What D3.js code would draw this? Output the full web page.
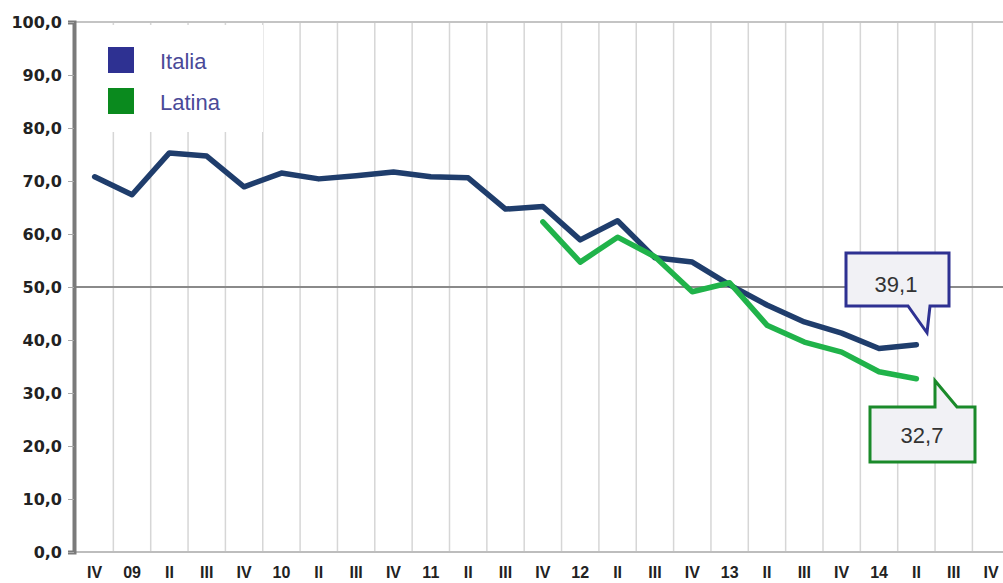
<!DOCTYPE html>
<html>
<head>
<meta charset="utf-8">
<script src="https://cdn.jsdelivr.net/npm/d3@7"></script>
<style>
  body { margin: 0; background: #fff; }
  svg { display: block; font-family: "Liberation Sans", Arial, sans-serif; }
</style>
</head>
<body>
<script>
// quarters from IV 2008 to IV 2014
var quarters = ["IV","09","II","III","IV","10","II","III","IV","11","II","III",
                "IV","12","II","III","IV","13","II","III","IV","14","II","III","IV"];
var italia = [70.8,67.4,75.3,74.7,68.9,71.5,70.4,71.0,71.7,70.8,70.6,64.7,
              65.2,58.9,62.5,55.5,54.7,50.4,46.6,43.4,41.3,38.4,39.1,null,null];
var latina = [null,null,null,null,null,null,null,null,null,null,null,null,
              62.3,54.7,59.4,55.7,49.1,50.8,42.8,39.6,37.7,34.0,32.7,null,null];
var yTicks = [0,10,20,30,40,50,60,70,80,90,100];
var seriesNames = ["Italia","Latina"];
var lastItalia = "39,1";
var lastLatina = "32,7";

var w = 1003, h = 583;
var svg = d3.select("body").append("svg").attr("width", w).attr("height", h);

var x = d3.scaleBand().domain(d3.range(quarters.length)).range([76, 76 + 25*37.35]);
var y = d3.scaleLinear().domain([0,100]).range([552, 22]);
var cx = function(i){ return x(i) + x.bandwidth()/2; };

// vertical grid lines at quarter boundaries
svg.append("g").selectAll("line")
  .data(d3.range(1, quarters.length))
  .enter().append("line")
  .attr("x1", function(d){ return x(d); })
  .attr("x2", function(d){ return x(d); })
  .attr("y1", y(100)).attr("y2", y(0))
  .attr("stroke", "#d6d6d6").attr("stroke-width", 1.5);

// top border
svg.append("line").attr("x1", 74).attr("x2", w).attr("y1", y(100)).attr("y2", y(100))
  .attr("stroke", "#c4c4c4").attr("stroke-width", 2);

// legend box hides grid
svg.append("rect").attr("x", 77).attr("y", 25).attr("width", 186).attr("height", 107).attr("fill", "#fff");

// 50 line
svg.append("line").attr("x1", 74).attr("x2", w).attr("y1", y(50)).attr("y2", y(50))
  .attr("stroke", "#8a8a8a").attr("stroke-width", 2);

// bottom baseline
svg.append("line").attr("x1", 74).attr("x2", w).attr("y1", y(0)).attr("y2", y(0))
  .attr("stroke", "#bdbdbd").attr("stroke-width", 2);

// y axis
var yAxis = svg.append("g").attr("transform", "translate(74,0)")
  .call(d3.axisLeft(y).tickValues(yTicks).tickSize(6).tickPadding(6)
    .tickFormat(function(d){ return d.toFixed(1).replace(".", ","); }));
yAxis.select(".domain").attr("stroke", "#7a7a7a").attr("stroke-width", 4);
yAxis.selectAll(".tick line").attr("stroke", "#aaa");
yAxis.selectAll("text").attr("font-size", 16).attr("font-weight", "bold").attr("fill", "#222")
  .attr("font-family", "DejaVu Sans, sans-serif");

// x axis
var xAxis = svg.append("g").attr("transform", "translate(0," + y(0) + ")")
  .call(d3.axisBottom(x).tickSize(0).tickPadding(15)
    .tickFormat(function(d){ return quarters[d]; }));
xAxis.select(".domain").remove();
xAxis.selectAll("text").attr("font-size", 16).attr("font-weight", "bold").attr("fill", "#222")
  .attr("font-family", "Liberation Sans, Arial, sans-serif");

// lines
var line = d3.line()
  .defined(function(d){ return d != null; })
  .x(function(d, i){ return cx(i); })
  .y(function(d){ return y(d); });

svg.append("path").datum(italia).attr("d", line)
  .attr("fill", "none").attr("stroke", "#1f3d6c").attr("stroke-width", 5.5)
  .attr("stroke-linejoin", "round").attr("stroke-linecap", "round");
svg.append("path").datum(latina).attr("d", line)
  .attr("fill", "none").attr("stroke", "#20b34a").attr("stroke-width", 5.5)
  .attr("stroke-linejoin", "round").attr("stroke-linecap", "round");

// legend
var legColors = ["#2e3192", "#0a8a1e"];
seriesNames.forEach(function(name, i){
  svg.append("rect").attr("x", 108).attr("y", 47 + i*41).attr("width", 26).attr("height", 26)
    .attr("fill", legColors[i]);
  svg.append("text").attr("x", 160).attr("y", 69 + i*41).text(name)
    .attr("font-size", 22).attr("fill", "#4a4a98");
});

// callouts
var iEnd = 22;
var iy = y(italia[iEnd]);
svg.append("path")
  .attr("d", "M846,253 L949,253 L949,306 L930,306 L927," + (iy - 12) + " L908,306 L846,306 Z")
  .attr("fill", "#f1f1f5").attr("stroke", "#2e3192").attr("stroke-width", 3).attr("stroke-linejoin", "miter");
svg.append("text").attr("x", 896).attr("y", 292).attr("text-anchor", "middle")
  .attr("font-size", 22).attr("fill", "#333").text(lastItalia);

var ly = y(latina[iEnd]);
svg.append("path")
  .attr("d", "M870,407 L935,407 L935," + (ly + 2) + " L957,407 L975,407 L975,462 L870,462 Z")
  .attr("fill", "#f1f1f5").attr("stroke", "#1a8a2a").attr("stroke-width", 3).attr("stroke-linejoin", "miter");
svg.append("text").attr("x", 922).attr("y", 443).attr("text-anchor", "middle")
  .attr("font-size", 22).attr("fill", "#333").text(lastLatina);
</script>
</body>
</html>
